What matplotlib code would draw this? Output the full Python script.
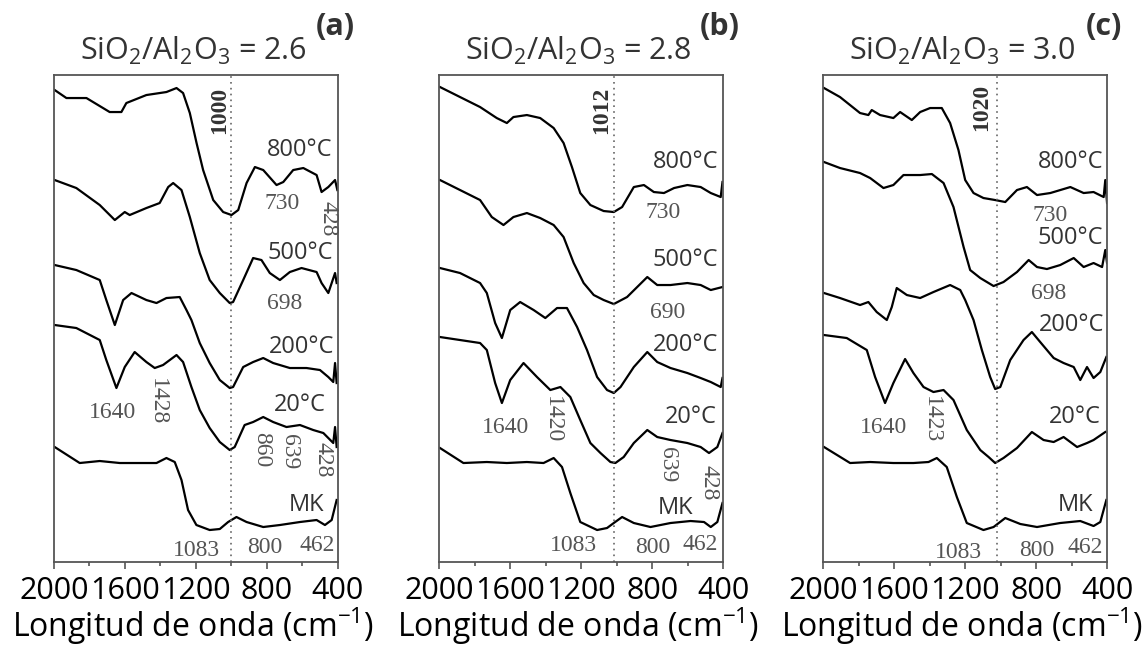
# FTIR spectra, three SiO2/Al2O3 ratios
import matplotlib
matplotlib.use("Agg")
import matplotlib.pyplot as plt

plt.rcParams["font.family"] = ["Open Sans", "DejaVu Sans"]
plt.rcParams["mathtext.fontset"] = "custom"
plt.rcParams["mathtext.rm"] = "Open Sans"
plt.rcParams["mathtext.it"] = "Open Sans:italic"
plt.rcParams["mathtext.bf"] = "Open Sans:bold"

# -----------------------------
# DATA  (wavenumber cm-1, stacked intensity a.u.)
# -----------------------------
# panel (a) SiO2/Al2O3 = 2.6
a_800 = [(1996, 472), (1930, 464), (1817, 464), (1686, 450), (1620, 450), (1592, 459),
         (1479, 467), (1366, 470), (1309, 474), (1272, 469), (1234, 449), (1196, 419),
         (1159, 392), (1102, 362), (1046, 350), (999, 347), (961, 352), (914, 379),
         (867, 395), (820, 392), (745, 377), (707, 380), (651, 392), (594, 394),
         (519, 387), (491, 370), (453, 375), (415, 382), (402, 372)]
a_500 = [(1996, 382), (1874, 374), (1742, 357), (1657, 342), (1601, 350), (1573, 347),
         (1479, 354), (1404, 359), (1356, 375), (1328, 379), (1281, 372), (1234, 345),
         (1178, 309), (1122, 282), (1065, 269), (1009, 259), (990, 260), (933, 282),
         (877, 304), (830, 302), (783, 289), (726, 282), (670, 290), (604, 294),
         (519, 290), (491, 279), (453, 269), (415, 289), (406, 279)]
a_200 = [(1996, 297), (1874, 292), (1742, 282), (1705, 262), (1657, 237), (1610, 262),
         (1563, 269), (1479, 262), (1422, 259), (1366, 264), (1291, 265), (1253, 252),
         (1225, 242), (1178, 219), (1122, 199), (1065, 182), (1009, 174), (990, 175),
         (933, 195), (877, 200), (820, 204), (764, 199), (670, 194), (576, 194),
         (500, 192), (453, 185), (425, 180), (415, 199), (406, 179)]
a_20 = [(1996, 237), (1874, 234), (1742, 222), (1705, 202), (1648, 174), (1601, 195),
        (1545, 210), (1479, 200), (1432, 194), (1385, 197), (1309, 207), (1272, 200),
        (1225, 175), (1178, 152), (1122, 134), (1065, 120), (1009, 112), (981, 115),
        (925, 137), (877, 140), (820, 145), (764, 140), (689, 135), (613, 137),
        (538, 132), (481, 129), (425, 119), (415, 135), (406, 115)]
a_mk = [(1996, 115), (1855, 99), (1742, 101), (1629, 99), (1516, 99), (1422, 99),
        (1366, 104), (1319, 100), (1281, 82), (1244, 52), (1197, 37), (1122, 32),
        (1065, 33), (1018, 40), (971, 45), (914, 40), (820, 35), (726, 37), (613, 40),
        (519, 42), (472, 37), (434, 42), (406, 62)]

# panel (b) SiO2/Al2O3 = 2.8
b_800 = [(1996, 475), (1883, 465), (1770, 455), (1676, 444), (1619, 439), (1582, 445),
         (1506, 447), (1431, 444), (1355, 434), (1299, 419), (1252, 395), (1205, 369),
         (1148, 357), (1073, 351), (1016, 350), (969, 355), (903, 375), (846, 377),
         (790, 370), (733, 369), (676, 374), (601, 377), (526, 375), (469, 369),
         (413, 365), (403, 380)]
b_500 = [(1996, 382), (1883, 372), (1770, 362), (1704, 345), (1638, 337), (1582, 345),
         (1506, 349), (1431, 344), (1355, 337), (1299, 325), (1242, 299), (1186, 279),
         (1129, 267), (1073, 262), (1016, 258), (941, 265), (884, 275), (827, 285),
         (771, 277), (696, 277), (601, 279), (526, 277), (469, 272), (403, 275)]
b_200 = [(1996, 294), (1883, 289), (1770, 279), (1732, 269), (1685, 239), (1647, 224),
         (1600, 252), (1544, 260), (1468, 252), (1402, 244), (1336, 254), (1280, 254),
         (1223, 235), (1167, 212), (1110, 185), (1054, 172), (1016, 169), (978, 175),
         (903, 195), (827, 210), (771, 200), (696, 194), (601, 189), (526, 184),
         (469, 180), (413, 175), (403, 184)]
b_20 = [(1996, 225), (1883, 222), (1770, 219), (1732, 212), (1685, 179), (1647, 159),
        (1600, 182), (1525, 199), (1449, 185), (1374, 172), (1317, 175), (1261, 165),
        (1205, 142), (1148, 119), (1091, 109), (1035, 100), (1007, 99), (960, 105),
        (903, 119), (827, 132), (771, 125), (696, 122), (601, 119), (526, 115),
        (479, 109), (432, 115), (403, 129)]
b_mk = [(1996, 114), (1864, 99), (1732, 100), (1619, 99), (1506, 100), (1412, 99),
        (1355, 104), (1308, 95), (1261, 69), (1205, 40), (1110, 32), (1054, 34),
        (1016, 39), (969, 45), (903, 39), (809, 35), (696, 39), (583, 41), (507, 40),
        (469, 35), (432, 40), (403, 59)]

# panel (c) SiO2/Al2O3 = 3.0
c_800 = [(1996, 474), (1906, 465), (1793, 449), (1746, 447), (1727, 452), (1680, 447),
         (1605, 444), (1567, 450), (1501, 442), (1454, 450), (1398, 454), (1332, 454),
         (1285, 439), (1238, 412), (1200, 382), (1153, 369), (1097, 364), (1031, 362),
         (974, 360), (908, 372), (852, 375), (795, 367), (720, 369), (607, 375),
         (532, 369), (476, 370), (419, 365), (410, 382), (400, 359)]
c_500 = [(1996, 400), (1906, 394), (1793, 389), (1736, 384), (1661, 374), (1605, 377),
         (1548, 387), (1454, 387), (1388, 388), (1322, 379), (1266, 355), (1209, 315),
         (1172, 292), (1115, 284), (1040, 276), (984, 280), (908, 290), (842, 302),
         (795, 295), (739, 293), (664, 297), (588, 304), (532, 295), (476, 299),
         (428, 295), (410, 312), (400, 299)]
c_200 = [(1996, 269), (1906, 264), (1793, 257), (1746, 260), (1699, 250), (1642, 242),
         (1614, 255), (1586, 274), (1529, 267), (1454, 264), (1379, 270), (1285, 277),
         (1228, 272), (1200, 262), (1153, 242), (1106, 212), (1059, 185), (1031, 173),
         (1002, 175), (946, 202), (871, 222), (824, 230), (777, 220), (701, 204),
         (645, 199), (588, 195), (551, 182), (513, 195), (476, 184), (438, 190),
         (404, 205)]
c_20 = [(1996, 227), (1868, 224), (1755, 212), (1708, 185), (1652, 159), (1605, 179),
        (1539, 203), (1492, 189), (1435, 175), (1379, 170), (1322, 172), (1266, 162),
        (1191, 132), (1115, 112), (1068, 105), (1031, 99), (984, 104), (908, 114),
        (824, 130), (758, 122), (701, 120), (645, 125), (569, 115), (513, 119),
        (476, 122), (410, 130)]
c_mk = [(1996, 115), (1849, 99), (1736, 100), (1605, 99), (1492, 99), (1407, 100),
        (1360, 104), (1304, 95), (1247, 65), (1191, 39), (1097, 32), (1040, 35),
        (974, 44), (889, 38), (795, 35), (664, 39), (551, 41), (476, 36), (438, 40),
        (404, 62)]

RATIOS = ["2.6", "2.8", "3.0"]
PANEL_TAGS = ["(a)", "(b)", "(c)"]
REF_LINES = [1000, 1012, 1020]

# labels: (text, wavenumber, y, kind)
a_labels = [("1000", 1065, 452, "ref"), ("800°C", 614, 412, "temp"), ("730", 715, 359, "peak"),
            ("428", 456, 343, "peakv"), ("500°C", 614, 309, "temp"), ("698", 699, 259, "peak"),
            ("200°C", 603, 215, "temp"), ("1640", 1667, 150, "peak"), ("1428", 1414, 160, "peakv"),
            ("20°C", 614, 157, "temp"), ("860", 828, 112, "peakv"), ("639", 670, 110, "peakv"),
            ("428", 484, 102, "peakv"), ("MK", 575, 57, "temp"), ("1083", 1195, 12, "peak"),
            ("800", 811, 15, "peak"), ("462", 518, 17, "peak")]
b_labels = [("1012", 1083, 452, "ref"), ("800°C", 611, 400, "temp"), ("730", 736, 350, "peak"),
            ("500°C", 611, 302, "temp"), ("690", 714, 250, "peak"), ("200°C", 611, 217, "temp"),
            ("1640", 1628, 135, "peak"), ("1420", 1364, 142, "peakv"), ("20°C", 583, 145, "temp"),
            ("639", 713, 97, "peakv"), ("428", 480, 79, "peakv"), ("MK", 668, 54, "temp"),
            ("1083", 1244, 17, "peak"), ("800", 798, 15, "peak"), ("462", 526, 18, "peak")]
c_labels = [("1020", 1106, 455, "ref"), ("800°C", 607, 400, "temp"), ("730", 720, 347, "peak"),
            ("500°C", 607, 324, "temp"), ("698", 731, 269, "peak"), ("200°C", 598, 237, "temp"),
            ("1640", 1661, 135, "peak"), ("1423", 1388, 142, "peakv"), ("20°C", 579, 145, "temp"),
            ("MK", 579, 57, "temp"), ("1083", 1240, 10, "peak"), ("800", 795, 12, "peak"),
            ("462", 522, 15, "peak")]

CURVES = [[a_800, a_500, a_200, a_20, a_mk],
          [b_800, b_500, b_200, b_20, b_mk],
          [c_800, c_500, c_200, c_20, c_mk]]
LABELS = [a_labels, b_labels, c_labels]

# -----------------------------
# STYLE
# -----------------------------
STYLES = {
    "temp": dict(family=["Open Sans", "DejaVu Sans"], fontsize=17, color="#333333", rotation=0),
    "peak": dict(family=["Liberation Serif"], fontsize=17, color="#555555", rotation=0),
    "peakv": dict(family=["Liberation Serif"], fontsize=17, color="#555555", rotation=-90),
    "ref": dict(family=["Liberation Serif"], fontsize=17, color="#333333", rotation=90,
                fontweight="bold"),
}
AX_LEFT = [0.0472, 0.3840, 0.7197]
AX_W = 0.248
AX_BOTTOM = 0.1327
AX_H = 0.7515
FRAME = "#555555"

fig = plt.figure(figsize=(11.44, 6.48), dpi=100)

for i in range(3):
    ax = fig.add_axes([AX_LEFT[i], AX_BOTTOM, AX_W, AX_H])

    for curve in CURVES[i]:
        w = [p[0] for p in curve]
        y = [p[1] for p in curve]
        ax.plot(w, y, color="black", lw=1.6)

    ax.axvline(REF_LINES[i], color="#666666", lw=1.2, ls=(0, (1, 2.5)))

    for text, w, y, kind in LABELS[i]:
        ax.text(w, y, text, ha="center", va="center", **STYLES[kind])

    ax.set_xlim(2000, 400)
    ax.set_ylim(0, 487)
    ax.set_xticks([2000, 1600, 1200, 800, 400])
    ax.set_xticks([1800, 1400, 1000, 600], minor=True)
    ax.set_yticks([])
    ax.tick_params(axis="x", which="major", direction="out", length=5, width=1.2,
                   color=FRAME, labelsize=22, pad=5)
    ax.tick_params(axis="x", which="minor", direction="out", length=3, width=1.2, color=FRAME)
    for sp in ax.spines.values():
        sp.set_color(FRAME)
        sp.set_linewidth(1.3)

    ax.text(0.49, 1.031, r"SiO$_2$/Al$_2$O$_3$ = " + RATIOS[i], transform=ax.transAxes,
            ha="center", va="baseline", fontsize=22, color="#333333")
    ax.text(0.99, 1.099, PANEL_TAGS[i], transform=ax.transAxes, ha="center", va="center",
            fontsize=22, fontweight="bold", color="#333333")
    ax.text(0.49, -0.154, r"Longitud de onda (cm$^{-1}$)", transform=ax.transAxes,
            ha="center", va="baseline", fontsize=23, color="black")

plt.savefig("out.png", dpi=100)
